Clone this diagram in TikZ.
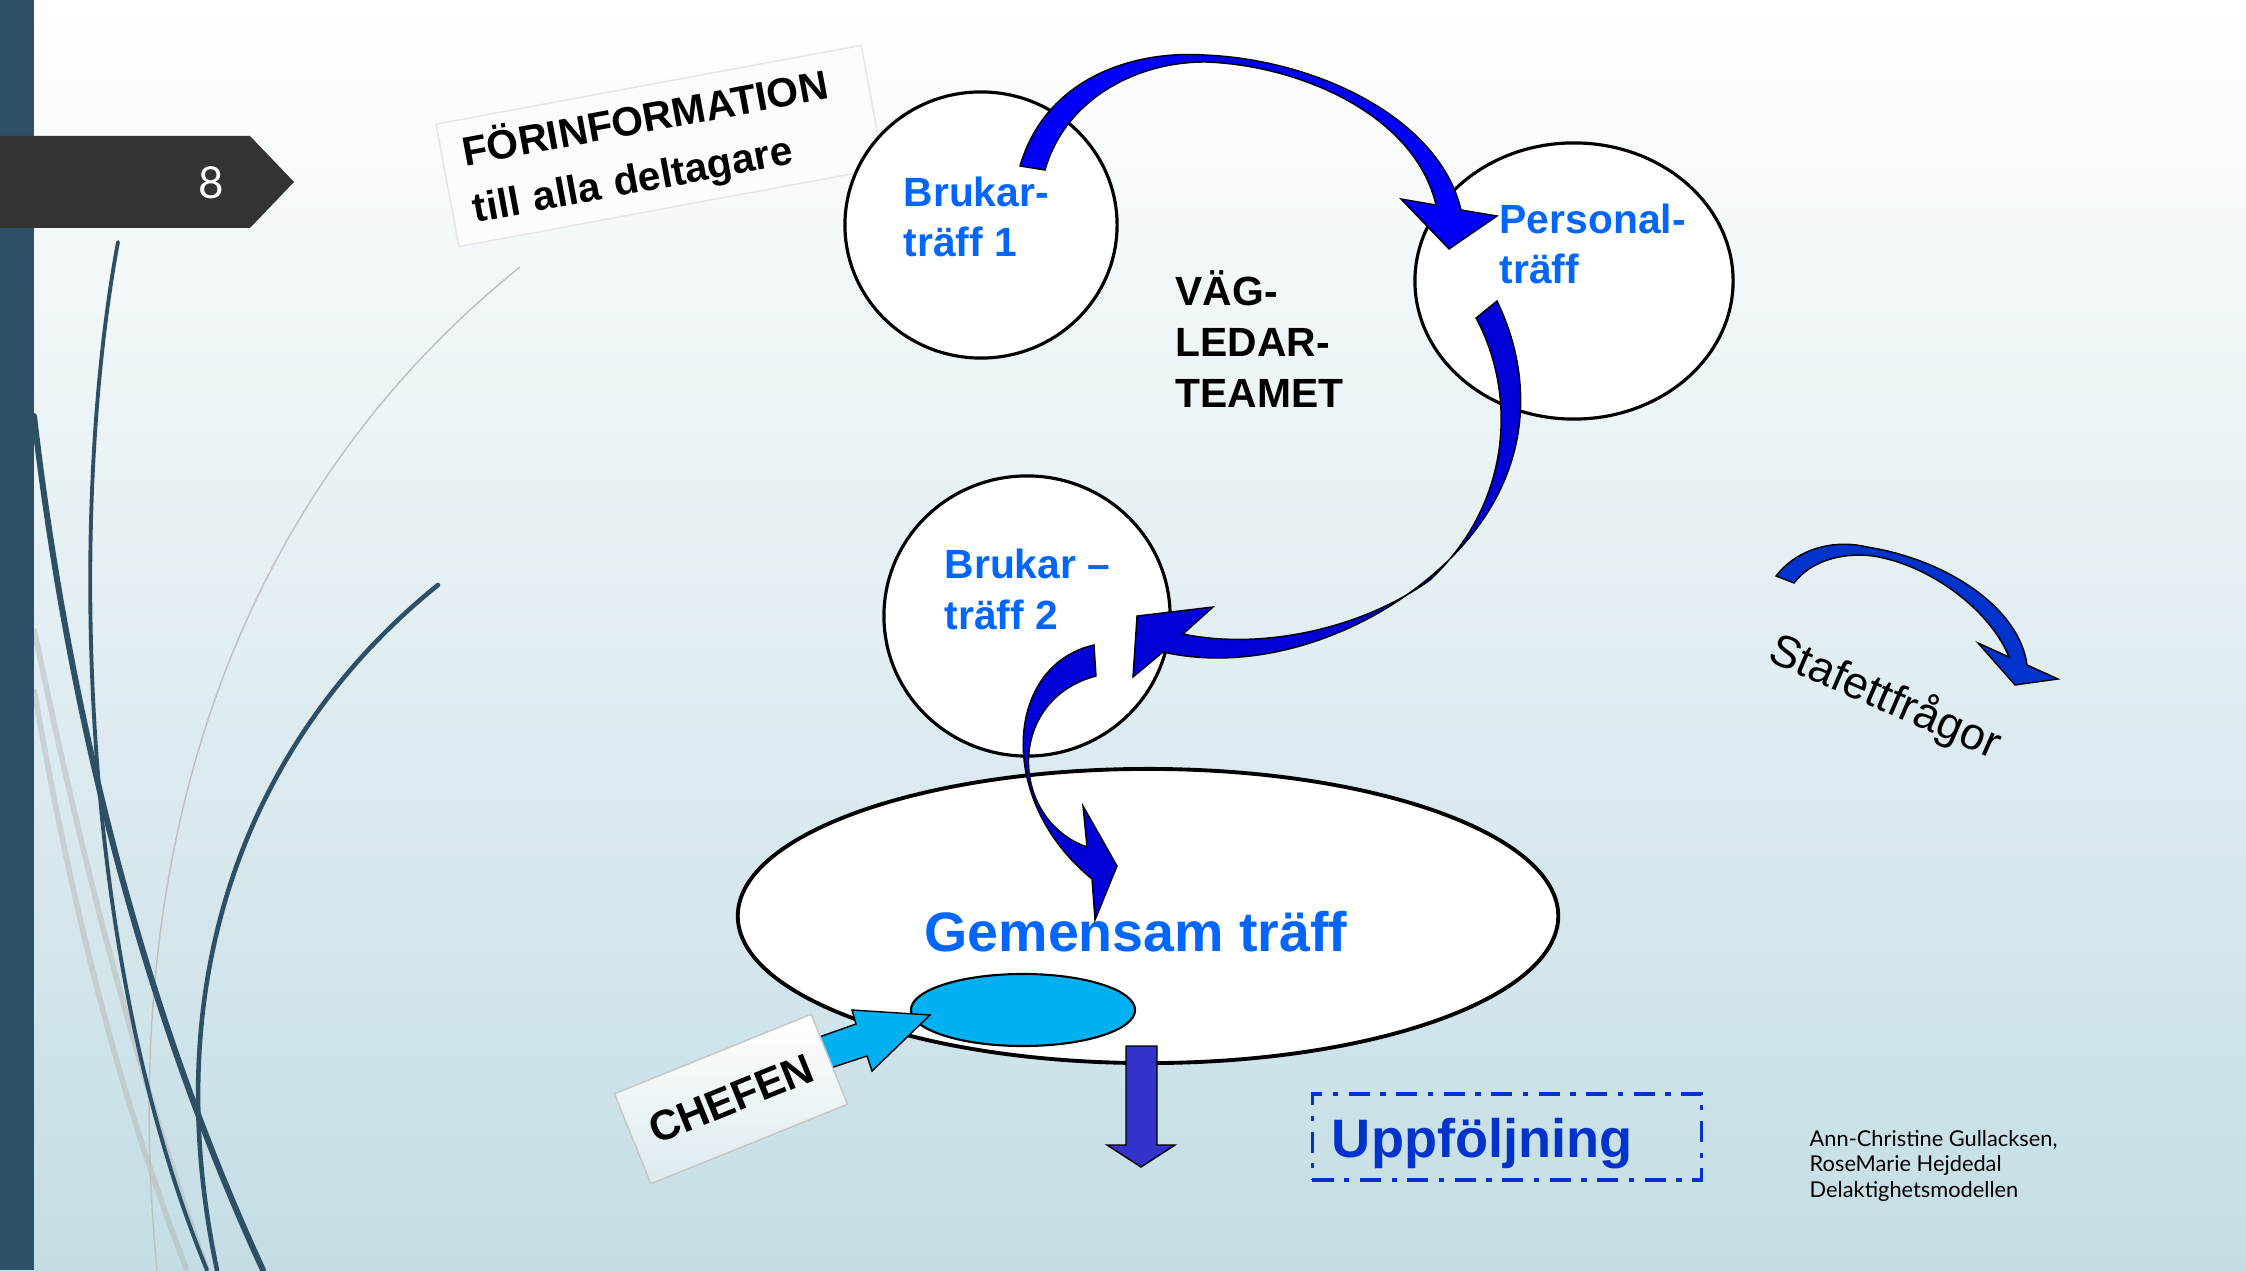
\documentclass[tikz,border=0pt]{standalone}
\usepackage{fontspec}
\setmainfont{Liberation Sans}
\newfontfamily\thinfont{Lato}
\usepackage{tikz}
\usetikzlibrary{shapes.geometric}
\definecolor{bgbot}{RGB}{196,221,229}
\definecolor{barblue}{RGB}{46,80,102}
\definecolor{tagdark}{RGB}{51,51,51}
\definecolor{labelblue}{RGB}{0,102,255}
\definecolor{followblue}{RGB}{0,51,204}
\definecolor{arrowblue}{RGB}{0,0,250}
\definecolor{arrowdark}{RGB}{0,0,215}
\definecolor{stafettblue}{RGB}{0,51,204}
\definecolor{bosscyan}{RGB}{0,176,240}
\definecolor{downblue}{RGB}{51,51,204}

\begin{document}
\begin{tikzpicture}[x=0.01cm, y=-0.01cm,
  meet/.style={ellipse, draw, fill=white, line width=.9pt, inner sep=0},
  lbl/.style={anchor=base west, align=left, inner sep=0, font=\bfseries\fontsize{11.6}{14.4}\selectfont},
  band/.style={draw=black, line width=.4pt},
  curl/.style={draw=barblue, line cap=round}]
\useasboundingbox (0,0) rectangle (2246,1270);
\shade [top color=white, bottom color=bgbot] (0,0) rectangle (2246,1270);
% swooshes
\draw [gray!60, line width=1.6pt, opacity=.45] (34,629) .. controls (80,850) and (130,1050) .. (207,1270);
\draw [gray!60, line width=1.6pt, opacity=.45] (34,689) .. controls (70,900) and (120,1100) .. (187,1270);
\draw [gray!50, line width=.4pt] (520,267) .. controls (280,460) and (110,780) .. (157,1270);
\draw [curl, line width=1.1pt] (118,242) .. controls (70,500) and (75,950) .. (207,1270);
\draw [curl, line width=1.7pt] (34,416) .. controls (60,640) and (120,960) .. (263,1270);
\draw [curl, line width=1.3pt] (438,585) .. controls (270,720) and (150,950) .. (217,1270);
\fill [barblue] (0,0) rectangle (34,1270);
\fill [tagdark] (0,136) -- (250,136) -- (294,182) -- (250,228) -- (0,228) -- cycle;
\node at (211,183) [name=page, text=white, font=\thinfont\fontsize{12.5}{15}\selectfont] {8};
\node at (660,146) [name=info, rotate=10.5, fill=white!94!bgbot, draw=gray!20, minimum width=4.32cm, minimum height=1.12cm, text width=3.9cm, align=left, font=\bfseries\fontsize{11.6}{16.4}\selectfont] {FÖRINFORMATION\\till alla deltagare};

\foreach \n/\x/\y/\w/\h in {bruk1/981/225/2.72/2.66, pers/1574/281/3.18/2.76, bruk2/1027/616/2.86/2.80}
  \node at (\x,\y) [name=\n, meet, minimum width=\w cm, minimum height=\h cm] {};
\node at (1148,916) [name=gem, meet, line width=1.1pt, minimum width=8.2cm, minimum height=2.94cm] {};
\node at (1023,1010) [name=boss, ellipse, draw, fill=bosscyan, line width=.6pt, minimum width=2.24cm, minimum height=.72cm, inner sep=0] {};

% base of a multi-line node = its last line
\node at (903,257) [name=b1txt, lbl, text=labelblue] {Brukar-\\träff 1};
\node at (1499,284) [name=perstxt, lbl, text=labelblue] {Personal-\\träff};
\node at (1175,407) [name=team, lbl] {VÄG-\\LEDAR-\\TEAMET};
\node at (944,629) [name=b2txt, lbl, text=labelblue] {Brukar –\\träff 2};
\node at (1136,951) [name=gemtxt, anchor=base, inner sep=0, text=labelblue, font=\bfseries\fontsize{15.8}{19}\selectfont] {Gemensam träff};

% curved arrows
\filldraw [band, fill=arrowblue] (1020,166) .. controls (1045,80) and (1130,50) .. (1205,55) .. controls (1320,60) and (1440,120) .. (1461,210) -- (1497,216) -- (1449,249) -- (1401,199) -- (1436,205) .. controls (1415,115) and (1300,65) .. (1205,62) .. controls (1135,62) and (1065,100) .. (1045,170) -- cycle;
\filldraw [band, fill=arrowdark] (1476,318) .. controls (1515,390) and (1515,500) .. (1430,580) .. controls (1360,630) and (1260,650) .. (1183,634) -- (1213,607) -- (1137,616) -- (1133,677) -- (1163,652) .. controls (1250,672) and (1350,640) .. (1420,585) .. controls (1530,500) and (1540,390) .. (1497,301) -- cycle;
\filldraw [band, fill=arrowdark] (1094,645) .. controls (1005,665) and (995,800) .. (1092,879) -- (1095,920) -- (1117,866) -- (1083,806) -- (1087,847) .. controls (1010,820) and (1005,700) .. (1096,676) -- cycle;
\filldraw [band, fill=stafettblue] (1776,576) .. controls (1800,545) and (1840,540) .. (1867,547) .. controls (1950,560) and (2020,610) .. (2027,665) -- (2058,679) -- (2015,685) -- (1978,643) -- (2009,657) .. controls (1990,610) and (1930,565) .. (1873,556) .. controls (1840,552) and (1810,562) .. (1794,583) -- cycle;
\filldraw [band, fill=bosscyan] (788,1048) -- (856,1024) -- (852,1010) -- (930,1015) -- (872,1071) -- (867,1056) -- (800,1078) -- cycle;
\filldraw [band, fill=downblue] (1126,1046) -- (1157,1046) -- (1157,1145) -- (1175,1145) -- (1141,1167) -- (1107,1145) -- (1126,1145) -- cycle;

\node at (731,1099) [name=chef, rotate=22, draw=gray!45, top color=white, bottom color=bgbot!60, minimum width=2.12cm, minimum height=.97cm, font=\bfseries\fontsize{12}{14}\selectfont] {CHEFEN};
\node at (1507,1137) [name=follow, draw=followblue, line width=.9pt, dash pattern=on 6pt off 3pt on 1.5pt off 3pt, minimum width=3.89cm, minimum height=.86cm, text width=3.5cm, text height=11.4pt, text depth=0pt, align=left, inner sep=0, text=followblue, font=\bfseries\fontsize{15.4}{18}\selectfont] {Uppföljning};
\node at (1885,698) [name=stafett, rotate=-23.5, font=\fontsize{12.8}{15}\selectfont] {Stafettfrågor};
\node at (1809,1197) [name=credit, anchor=base west, align=left, inner sep=0, font=\thinfont\fontsize{6.2}{7.25}\selectfont] {Ann-Christine Gullacksen,\\RoseMarie Hejdedal\\Delaktighetsmodellen};
\end{tikzpicture}
\end{document}
